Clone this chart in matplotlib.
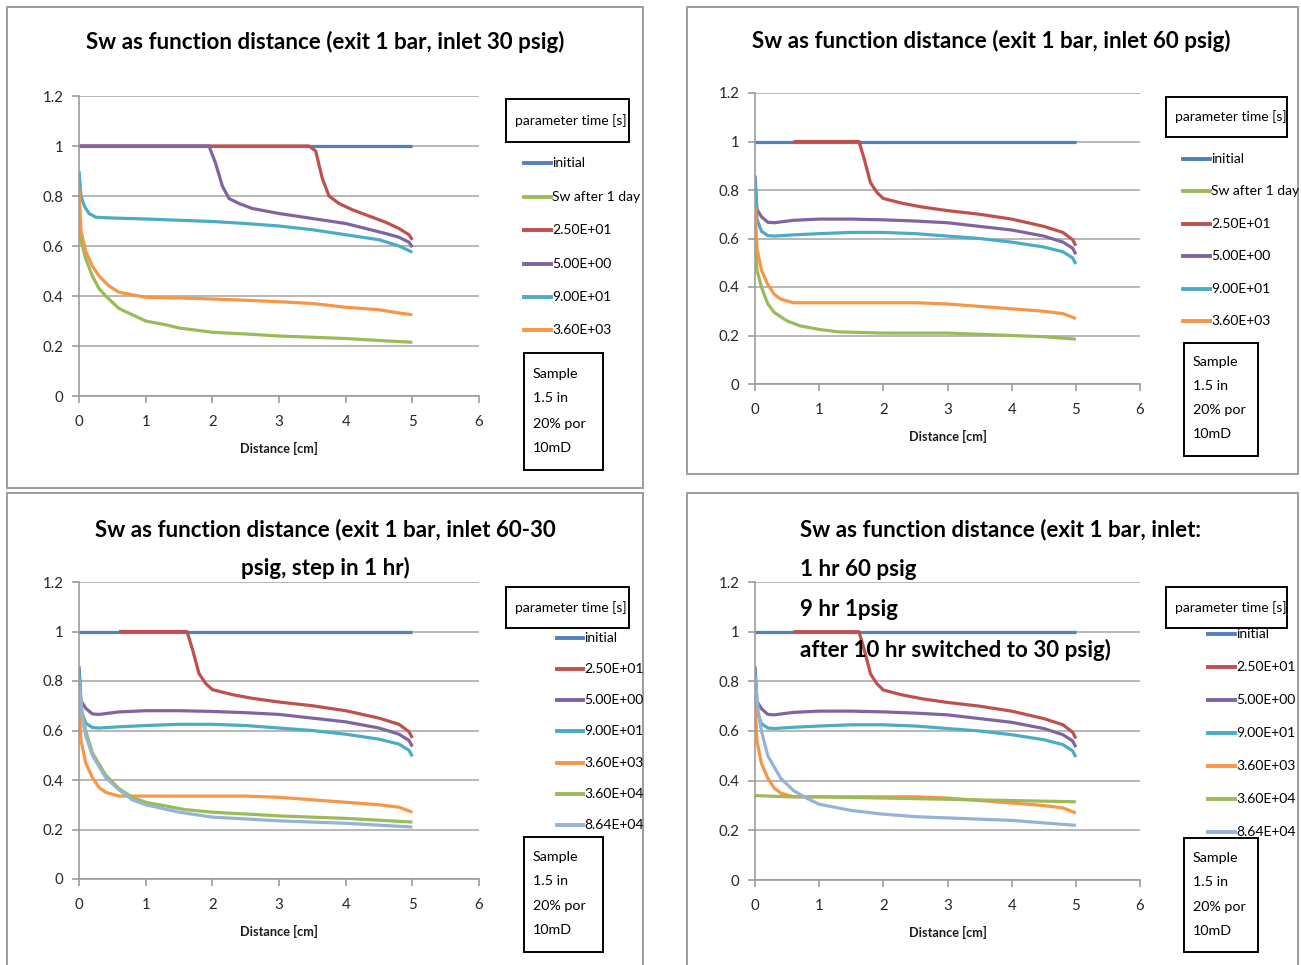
import matplotlib

matplotlib.use("Agg")

import matplotlib.pyplot as plt
from matplotlib.lines import Line2D
from matplotlib.patches import Rectangle


W, H = 1301, 965

FONT = ["Lato", "DejaVu Sans"]

# Excel 2007 default series colours
BLUE = "#4F81BD"
RED = "#C0504D"
GREEN = "#9BBB59"
PURPLE = "#8064A2"
TEAL = "#4BACC6"
ORANGE = "#F79646"
LIGHTBLUE = "#95B3D7"

# =========================
# DATA
# =========================

labels_a = ["initial", "Sw after 1 day", "2.50E+01", "5.00E+00", "9.00E+01", "3.60E+03"]
labels_b = ["initial", "2.50E+01", "5.00E+00", "9.00E+01", "3.60E+03", "3.60E+04", "8.64E+04"]

init_x = [0, 5]
init_y = [1, 1]

# inlet 30 psig
p30_day_x = [0, 0.03, 0.1, 0.2, 0.3, 0.4, 0.6, 0.8, 1.0, 1.3, 1.5, 2.0, 2.5, 3.0, 3.5, 4.0, 4.5, 5.0]
p30_day_y = [0.75, 0.62, 0.55, 0.48, 0.43, 0.40, 0.35, 0.325, 0.30, 0.285, 0.272, 0.255, 0.248, 0.24, 0.235, 0.23, 0.222, 0.215]

p30_25_x = [0, 3.45, 3.55, 3.65, 3.75, 3.9, 4.1, 4.3, 4.6, 4.8, 4.95, 5.0]
p30_25_y = [1, 1, 0.98, 0.87, 0.80, 0.77, 0.745, 0.725, 0.695, 0.67, 0.645, 0.625]

p30_5_x = [0, 1.95, 2.05, 2.15, 2.25, 2.4, 2.6, 3.0, 3.5, 4.0, 4.3, 4.6, 4.8, 4.95, 5.0]
p30_5_y = [1, 1, 0.93, 0.84, 0.79, 0.77, 0.75, 0.73, 0.71, 0.69, 0.67, 0.65, 0.635, 0.615, 0.595]

p30_90_x = [0, 0.03, 0.08, 0.15, 0.25, 0.5, 1.0, 1.5, 2.0, 2.5, 3.0, 3.5, 4.0, 4.5, 4.8, 5.0]
p30_90_y = [0.90, 0.80, 0.76, 0.73, 0.715, 0.712, 0.708, 0.703, 0.698, 0.69, 0.68, 0.665, 0.645, 0.625, 0.60, 0.575]

p30_3600_x = [0, 0.03, 0.1, 0.2, 0.3, 0.45, 0.6, 0.8, 1.0, 1.5, 2.0, 2.5, 3.0, 3.5, 4.0, 4.5, 4.8, 5.0]
p30_3600_y = [0.83, 0.66, 0.58, 0.52, 0.48, 0.44, 0.415, 0.405, 0.395, 0.392, 0.388, 0.383, 0.377, 0.37, 0.355, 0.345, 0.332, 0.325]

# inlet 60 psig (also the first hour of the stepped runs)
p60_day_x = [0, 0.03, 0.1, 0.2, 0.3, 0.5, 0.7, 1.0, 1.3, 2.0, 3.0, 3.5, 4.0, 4.5, 5.0]
p60_day_y = [0.63, 0.47, 0.40, 0.33, 0.295, 0.26, 0.24, 0.225, 0.215, 0.21, 0.21, 0.205, 0.20, 0.195, 0.185]

p60_25_x = [0.6, 1.62, 1.7, 1.8, 1.9, 2.0, 2.3, 2.6, 3.0, 3.5, 4.0, 4.5, 4.8, 4.95, 5.0]
p60_25_y = [1, 1, 0.93, 0.83, 0.79, 0.765, 0.745, 0.73, 0.715, 0.70, 0.68, 0.65, 0.625, 0.595, 0.57]

p60_5_x = [0, 0.03, 0.1, 0.2, 0.3, 0.6, 1.0, 1.5, 2.0, 2.5, 3.0, 3.5, 4.0, 4.5, 4.8, 4.95, 5.0]
p60_5_y = [0.86, 0.72, 0.69, 0.667, 0.665, 0.675, 0.68, 0.68, 0.677, 0.672, 0.665, 0.65, 0.635, 0.61, 0.585, 0.56, 0.535]

p60_90_x = [0, 0.03, 0.1, 0.2, 0.3, 0.6, 1.0, 1.5, 2.0, 2.5, 3.0, 3.5, 4.0, 4.5, 4.8, 4.95, 5.0]
p60_90_y = [0.84, 0.68, 0.63, 0.612, 0.61, 0.615, 0.62, 0.625, 0.625, 0.62, 0.61, 0.60, 0.585, 0.565, 0.545, 0.52, 0.495]

p60_3600_x = [0, 0.03, 0.1, 0.2, 0.3, 0.4, 0.6, 1.0, 2.0, 2.5, 3.0, 3.5, 4.0, 4.5, 4.8, 5.0]
p60_3600_y = [0.73, 0.56, 0.47, 0.41, 0.37, 0.35, 0.335, 0.335, 0.335, 0.335, 0.33, 0.32, 0.31, 0.30, 0.29, 0.27]

# inlet 60-30 psig, step in 1 hr
step_36000_x = [0, 0.05, 0.1, 0.2, 0.4, 0.6, 0.8, 1.0, 1.3, 1.6, 2.0, 3.0, 4.0, 5.0]
step_36000_y = [0.80, 0.66, 0.60, 0.51, 0.42, 0.365, 0.33, 0.31, 0.295, 0.28, 0.27, 0.255, 0.245, 0.23]

step_86400_x = [0, 0.05, 0.1, 0.2, 0.4, 0.6, 0.8, 1.0, 1.5, 2.0, 3.0, 4.0, 5.0]
step_86400_y = [0.80, 0.65, 0.58, 0.50, 0.41, 0.36, 0.32, 0.30, 0.27, 0.25, 0.235, 0.225, 0.21]

# inlet 60 / 1 / 30 psig
mix_36000_x = [0, 0.5, 1.0, 2.0, 3.0, 4.0, 5.0]
mix_36000_y = [0.34, 0.335, 0.335, 0.33, 0.325, 0.32, 0.315]

mix_86400_x = [0, 0.05, 0.1, 0.2, 0.4, 0.6, 0.8, 1.0, 1.5, 2.0, 2.5, 3.0, 4.0, 5.0]
mix_86400_y = [0.82, 0.68, 0.60, 0.50, 0.41, 0.36, 0.33, 0.305, 0.28, 0.265, 0.255, 0.25, 0.24, 0.22]

sample_lines = ["Sample", "1.5 in", "20% por", "10mD"]


def fx(x):
    return x / W


def fy(y):
    return 1 - y / H


def fit_size(fig, text, target_px, weight="normal"):

    # font size that makes `text` about target_px wide
    probe = fig.text(0, 0, text, family=FONT, fontsize=10, fontweight=weight)
    width = probe.get_window_extent(renderer=fig.canvas.get_renderer()).width
    probe.remove()
    return 10 * target_px / width


def draw_panel(fig, layout, series, labels, sizes):

    # outer chart frame
    fx0, fy0, fx1, fy1 = layout["frame"]
    fig.add_artist(Rectangle(
        (fx(fx0), fy(fy1)), fx(fx1 - fx0), (fy1 - fy0) / H,
        transform=fig.transFigure, fill=False, edgecolor="#9C9C9C", lw=1.4
    ))

    x0, x6, y0, y12 = layout["plot"]
    ax = fig.add_axes([fx(x0), fy(y0), fx(x6 - x0), (y0 - y12) / H])

    for (xs, ys, color) in series:
        ax.plot(xs, ys, color=color, lw=2.3, solid_capstyle="butt")

    ax.set_xlim(0, 6)
    ax.set_ylim(0, 1.2)
    ax.set_xticks(range(0, 7))
    ax.set_yticks([0, 0.2, 0.4, 0.6, 0.8, 1.0, 1.2])
    ax.set_yticklabels(["0", "0.2", "0.4", "0.6", "0.8", "1", "1.2"])
    ax.grid(axis="y", color="#ABABAB", lw=1.2)
    ax.set_axisbelow(True)
    for side in ["top", "right"]:
        ax.spines[side].set_visible(False)
    for side in ["left", "bottom"]:
        ax.spines[side].set_color("#9C9C9C")
        ax.spines[side].set_linewidth(1.2)
    ax.tick_params(colors="#9C9C9C", labelcolor="#262626", length=5, width=1.2,
                   labelsize=sizes["tick"])
    ax.tick_params(axis="x", pad=9)
    ax.tick_params(axis="y", pad=6)
    for lab in ax.get_xticklabels() + ax.get_yticklabels():
        lab.set_family(FONT)
    ax.set_xlabel("Distance [cm]", family=FONT, fontsize=sizes["xlabel"],
                  fontweight="bold", labelpad=9, color="#1A1A1A")
    ax.patch.set_alpha(0)

    # title
    ha = "center" if layout["title_mode"] == "center" else "left"
    for (txt, ty) in layout["title"]:
        fig.text(fx(layout["title_x"]), fy(ty), txt, ha=ha, va="center",
                 family=FONT, fontsize=sizes["title"], fontweight="bold", zorder=10)

    # "parameter time [s]" box
    bx0, by0, bx1, by1 = layout["param_box"]
    fig.add_artist(Rectangle(
        (fx(bx0), fy(by1)), fx(bx1 - bx0), (by1 - by0) / H,
        transform=fig.transFigure, fill=False, edgecolor="black", lw=1.4, zorder=3
    ))
    fig.text(fx(bx0 + 9), fy((by0 + by1) / 2), "parameter time [s]", ha="left",
             va="center", family=FONT, fontsize=sizes["legend"])

    # legend entries
    lx0, lx1 = layout["legend_line"]
    for (lab, (xs, ys, color), ry) in zip(labels, series, layout["legend_rows"]):
        fig.add_artist(Line2D([fx(lx0), fx(lx1)], [fy(ry), fy(ry)],
                              transform=fig.transFigure, color=color, lw=2.8))
        fig.text(fx(lx1 + 1), fy(ry), lab, ha="left", va="center",
                 family=FONT, fontsize=sizes["legend"], zorder=5)

    # sample box
    sx0, sy0, sx1, sy1 = layout["sample_box"]
    fig.add_artist(Rectangle(
        (fx(sx0), fy(sy1)), fx(sx1 - sx0), (sy1 - sy0) / H,
        transform=fig.transFigure, fill=False, edgecolor="black", lw=1.4, zorder=3
    ))
    for (txt, ty) in zip(sample_lines, layout["sample_rows"]):
        fig.text(fx(sx0 + 9), fy(ty), txt, ha="left", va="center",
                 family=FONT, fontsize=sizes["sample"])

    return ax


def main():

    fig = plt.figure(figsize=(W / 100, H / 100), dpi=100)

    sizes = dict(
        title=fit_size(fig, "Sw as function distance (exit 1 bar, inlet 30 psig)", 478, "bold"),
        legend=fit_size(fig, "parameter time [s]", 112),
        sample=fit_size(fig, "20% por", 53),
        xlabel=fit_size(fig, "Distance [cm]", 78, "bold"),
        tick=fit_size(fig, "0.2", 21),
    )

    series_30 = [
        (init_x, init_y, BLUE),
        (p30_day_x, p30_day_y, GREEN),
        (p30_25_x, p30_25_y, RED),
        (p30_5_x, p30_5_y, PURPLE),
        (p30_90_x, p30_90_y, TEAL),
        (p30_3600_x, p30_3600_y, ORANGE),
    ]

    series_60 = [
        (init_x, init_y, BLUE),
        (p60_day_x, p60_day_y, GREEN),
        (p60_25_x, p60_25_y, RED),
        (p60_5_x, p60_5_y, PURPLE),
        (p60_90_x, p60_90_y, TEAL),
        (p60_3600_x, p60_3600_y, ORANGE),
    ]

    series_step = [
        (init_x, init_y, BLUE),
        (p60_25_x, p60_25_y, RED),
        (p60_5_x, p60_5_y, PURPLE),
        (p60_90_x, p60_90_y, TEAL),
        (p60_3600_x, p60_3600_y, ORANGE),
        (step_36000_x, step_36000_y, GREEN),
        (step_86400_x, step_86400_y, LIGHTBLUE),
    ]

    series_mix = [
        (init_x, init_y, BLUE),
        (p60_25_x, p60_25_y, RED),
        (p60_5_x, p60_5_y, PURPLE),
        (p60_90_x, p60_90_y, TEAL),
        (p60_3600_x, p60_3600_y, ORANGE),
        (mix_36000_x, mix_36000_y, GREEN),
        (mix_86400_x, mix_86400_y, LIGHTBLUE),
    ]

    layout_1 = dict(
        frame=(7, 7, 643, 488),
        plot=(79, 479, 396, 96),
        title_mode="center", title_x=325,
        title=[("Sw as function distance (exit 1 bar, inlet 30 psig)", 42)],
        param_box=(506, 99, 629, 142),
        legend_line=(524, 551),
        legend_rows=[163, 197, 230, 264, 297, 330],
        sample_box=(524, 353, 603, 470),
        sample_rows=[374, 398, 424, 448],
    )

    layout_2 = dict(
        frame=(687, 7, 1298, 474),
        plot=(755, 1140, 384, 93),
        title_mode="center", title_x=991,
        title=[("Sw as function distance (exit 1 bar, inlet 60 psig)", 41)],
        param_box=(1166, 97, 1287, 137),
        legend_line=(1183, 1210),
        legend_rows=[159, 191, 224, 256, 289, 321],
        sample_box=(1184, 343, 1258, 456),
        sample_rows=[362, 386, 410, 434],
    )

    layout_3 = dict(
        frame=(7, 493, 643, 968),
        plot=(79, 479, 879, 582),
        title_mode="center", title_x=325,
        title=[("Sw as function distance (exit 1 bar, inlet 60-30", 530),
               ("psig, step in 1 hr)", 568)],
        param_box=(506, 587, 629, 628),
        legend_line=(557, 583),
        legend_rows=[638, 669, 700, 731, 763, 794, 825],
        sample_box=(524, 837, 603, 952),
        sample_rows=[857, 881, 906, 930],
    )

    layout_4 = dict(
        frame=(687, 493, 1298, 968),
        plot=(755, 1140, 880, 582),
        title_mode="left", title_x=800,
        title=[("Sw as function distance (exit 1 bar, inlet:", 530),
               ("1 hr 60 psig", 570),
               ("9 hr 1psig", 610),
               ("after 10 hr switched to 30 psig)", 650)],
        param_box=(1166, 587, 1287, 628),
        legend_line=(1208, 1235),
        legend_rows=[634, 667, 700, 733, 766, 799, 832],
        sample_box=(1184, 838, 1258, 952),
        sample_rows=[858, 882, 907, 931],
    )

    draw_panel(fig, layout_1, series_30, labels_a, sizes)
    draw_panel(fig, layout_2, series_60, labels_a, sizes)
    draw_panel(fig, layout_3, series_step, labels_b, sizes)
    draw_panel(fig, layout_4, series_mix, labels_b, sizes)

    fig.savefig("out.png", dpi=100, facecolor="white")
    plt.close(fig)


if __name__ == "__main__":

    main()
